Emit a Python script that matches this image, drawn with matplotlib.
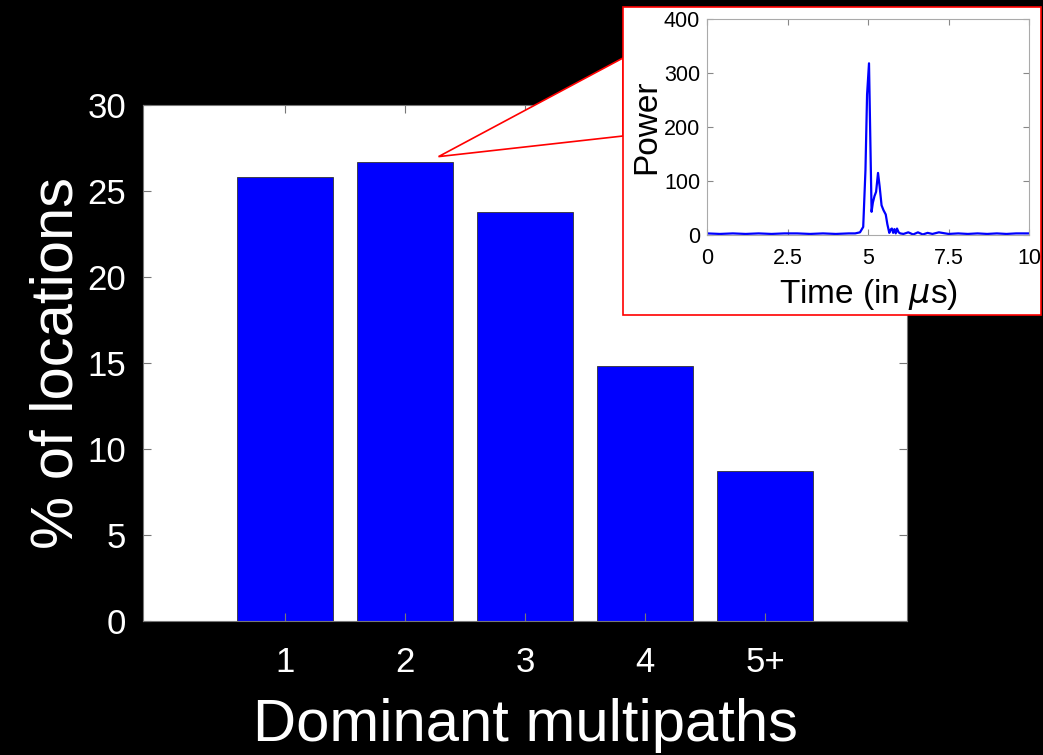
import numpy as np
import matplotlib.pyplot as plt
from matplotlib.patches import Rectangle, Polygon

plt.rcParams['font.family'] = ['Liberation Sans', 'DejaVu Sans']
plt.rcParams['mathtext.fontset'] = 'dejavusans'

# Bar data: % of locations per number of dominant multipaths
categories = ['1', '2', '3', '4', '5+']
percent = [25.8, 26.7, 23.8, 14.8, 8.7]

# Inset: power delay profile of one location
time_us = [0.0, 0.4, 0.8, 1.2, 1.6, 2.0, 2.4, 2.8, 3.2, 3.6, 4.0, 4.4, 4.6,
           4.75, 4.85, 4.92, 4.97, 5.03, 5.07, 5.11, 5.15, 5.2, 5.25, 5.31,
           5.36, 5.42, 5.48, 5.55, 5.6, 5.66, 5.7, 5.74, 5.78, 5.82, 5.86,
           5.9, 5.95, 6.0, 6.1, 6.25, 6.4, 6.55, 6.7, 6.85, 7.0, 7.2, 7.5,
           7.8, 8.1, 8.4, 8.7, 9.0, 9.3, 9.6, 10.0]
power = [3, 2, 3, 2, 3, 2, 3, 3, 2, 3, 2, 3, 3,
         5, 15, 120, 260, 318, 180, 43, 60, 72, 80, 115,
         90, 55, 46, 38, 20, 4, 10, 12, 4, 11, 3,
         12, 5, 3, 2, 5, 1, 5, 1, 4, 2, 5, 2,
         3, 2, 3, 2, 3, 2, 3, 3]

fig = plt.figure(figsize=(10.43, 7.55), dpi=100, facecolor='black')

ax = fig.add_axes([0.1371, 0.1775, 0.7325, 0.6834])
ax.set_facecolor('white')
x = np.arange(1, len(categories) + 1)
ax.bar(x, percent, width=0.8, color='#0000ff', edgecolor='#333333', linewidth=0.6)
ax.set_xlim(-0.18, 6.18)
ax.set_ylim(0, 30)
ax.set_yticks(range(0, 31, 5))
ax.set_xticks(x)
ax.set_xticklabels(categories)
ax.tick_params(direction='in', colors='#777777', labelcolor='white',
               labelsize=25, length=6, top=True, right=True)
ax.tick_params(axis='x', pad=18)
ax.tick_params(axis='y', pad=12)
for s in ax.spines.values():
    s.set_color('#777777')
ax.set_xlabel('Dominant multipaths', color='white', fontsize=43, labelpad=14)
ax.set_ylabel('% of locations', color='white', fontsize=43, labelpad=2)

# callout from bar 2 to the inset
apex = fig.transFigure.inverted().transform(
    ax.transData.transform((x[1] + 0.28, percent[1] + 0.3)))
callout = Polygon([(0.5973, 1 - 58 / 755), tuple(apex), (0.5973, 1 - 136 / 755)],
                  closed=True, transform=fig.transFigure, facecolor='white',
                  edgecolor='red', linewidth=1.2, zorder=1)
fig.add_artist(callout)
box = Rectangle((0.5973, 0.5828), 0.4008, 0.408, transform=fig.transFigure,
                facecolor='white', edgecolor='red', linewidth=1.2, zorder=1)
fig.add_artist(box)

ins = fig.add_axes([0.6779, 0.6887, 0.3087, 0.2861], zorder=2)
ins.plot(time_us, power, color='#0000ff', linewidth=1.6)
ins.set_xlim(0, 10)
ins.set_ylim(0, 400)
ins.set_xticks([0, 2.5, 5, 7.5, 10])
ins.set_xticklabels(['0', '2.5', '5', '7.5', '10'])
ins.set_yticks(range(0, 401, 100))
ins.tick_params(direction='in', colors='#888888', labelcolor='black',
                labelsize=15.5, length=4, top=True, right=True, pad=5)
ins.tick_params(axis='x', pad=9)
for s in ins.spines.values():
    s.set_color('#aaaaaa')
ins.set_xlabel(r'Time (in $\mu$s)', fontsize=24, labelpad=6)
ins.set_ylabel('Power', fontsize=24, labelpad=1)

fig.savefig('out.png', dpi=100, facecolor='black')
